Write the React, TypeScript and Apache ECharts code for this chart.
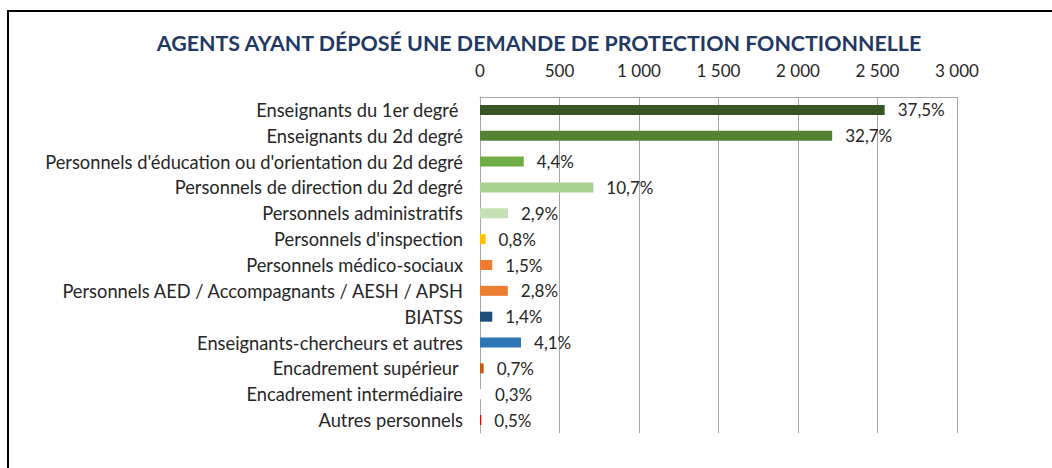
import { useEffect, useRef } from "react";
import * as echarts from "echarts";

const title = "AGENTS AYANT DÉPOSÉ UNE DEMANDE DE PROTECTION FONCTIONNELLE";

const categories = [
  "Enseignants du 1er degré ",
  "Enseignants du 2d degré",
  "Personnels d'éducation ou d'orientation du 2d degré",
  "Personnels de direction du 2d degré",
  "Personnels administratifs",
  "Personnels d'inspection",
  "Personnels médico-sociaux",
  "Personnels AED / Accompagnants / AESH / APSH",
  "BIATSS",
  "Enseignants-chercheurs et autres",
  "Encadrement supérieur ",
  "Encadrement intermédiaire",
  "Autres personnels",
];

const counts = [2545, 2215, 275, 713, 176, 35, 77, 175, 77, 258, 23, 12, 8];

const shares = [37.5, 32.7, 4.4, 10.7, 2.9, 0.8, 1.5, 2.8, 1.4, 4.1, 0.7, 0.3, 0.5];

const barColors = [
  "#375623",
  "#548235",
  "#70ad47",
  "#a9d18e",
  "#c5e0b4",
  "#ffc000",
  "#ed7d31",
  "#ed7d31",
  "#1f4e79",
  "#2e75b6",
  "#c55a11",
  "#ffffff",
  "#ff0000",
];

const axisMin = 0;
const axisMax = 3000;
const axisStep = 500;

const FONT = "Lato, 'Open Sans', 'Noto Sans', sans-serif";

function fmtThousands(v: number): string {
  return String(v).replace(/\B(?=(\d{3})+(?!\d))/g, " ");
}

export default function App() {
  const ref = useRef<HTMLDivElement>(null);

  useEffect(() => {
    if (!ref.current) return;
    const chart = echarts.init(ref.current, null, { renderer: "svg" });
    chart.setOption({
      animation: false,
      backgroundColor: "#ffffff",
      title: {
        text: title,
        left: 534,
        top: 27,
        textAlign: "center",
        textStyle: {
          fontFamily: FONT,
          fontWeight: "bold",
          fontSize: 21.4,
          color: "#1f3864",
        },
      },
      grid: {
        left: 480,
        right: 95,
        top: 97,
        bottom: 35,
        containLabel: false,
      },
      xAxis: {
        type: "value",
        position: "top",
        min: axisMin,
        max: axisMax,
        interval: axisStep,
        axisLine: { show: true, lineStyle: { color: "#a6a6a6", width: 1 } },
        axisTick: { show: false },
        axisLabel: {
          margin: 18,
          fontFamily: FONT,
          fontSize: 17,
          color: "#262626",
          formatter: (v: number) => fmtThousands(v),
        },
        splitLine: { show: true, lineStyle: { color: "#a6a6a6", width: 1 } },
      },
      yAxis: {
        type: "category",
        inverse: true,
        data: categories,
        axisLine: { show: true, lineStyle: { color: "#a6a6a6", width: 1 } },
        axisTick: { show: false },
        axisLabel: {
          margin: 17,
          fontFamily: FONT,
          fontSize: 18.3,
          color: "#262626",
        },
      },
      series: [
        {
          type: "bar",
          barWidth: 10,
          data: counts.map((v, i) => ({
            value: v,
            itemStyle: { color: barColors[i] },
          })),
          label: {
            show: true,
            position: "right",
            distance: 13,
            fontFamily: FONT,
            fontSize: 17,
            color: "#262626",
            formatter: (p: any) => shares[p.dataIndex].toFixed(1).replace(".", ",") + "%",
          },
        },
      ],
      graphic: [
        {
          type: "line",
          shape: { x1: 7, y1: 11, x2: 1052, y2: 11 },
          style: { stroke: "#000000", lineWidth: 2 },
        },
        {
          type: "line",
          shape: { x1: 8, y1: 11, x2: 8, y2: 468 },
          style: { stroke: "#000000", lineWidth: 2 },
        },
      ],
    });
    return () => chart.dispose();
  }, []);

  return (
    <div
      ref={ref}
      style={{ position: "fixed", left: 0, top: 0, width: 1052, height: 468 }}
    />
  );
}
